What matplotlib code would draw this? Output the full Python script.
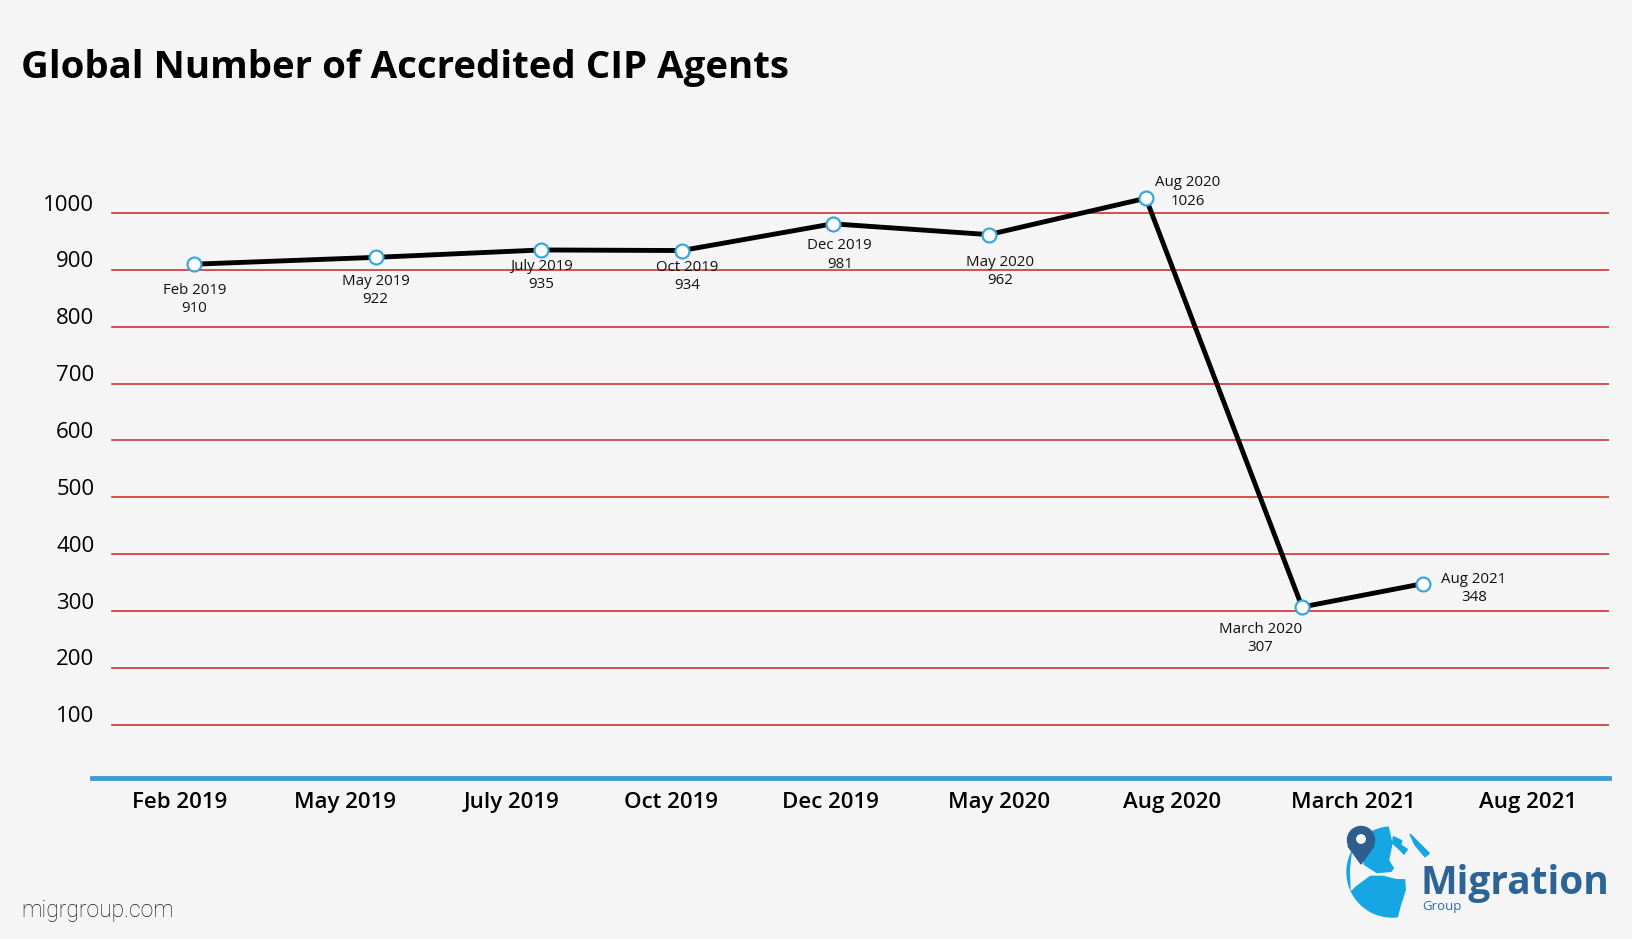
"""Global number of accredited CIP agents, redrawn as a line chart"""
import matplotlib
matplotlib.use("Agg")
import matplotlib.pyplot as plt
import matplotlib.transforms as mtransforms
from matplotlib.patches import Circle, Polygon

# data
categories = ["Feb 2019", "May 2019", "July 2019", "Oct 2019", "Dec 2019",
              "May 2020", "Aug 2020", "March 2021", "Aug 2021"]
point_names = ["Feb 2019", "May 2019", "July 2019", "Oct 2019", "Dec 2019",
               "May 2020", "Aug 2020", "March 2020", "Aug 2021"]
agents = [910, 922, 935, 934, 981, 962, 1026, 307, 348]
# where each point sits along the category axis (points are not on the ticks)
point_pos = [0.11, 1.185, 2.167, 3.0, 3.895, 4.821, 5.753, 6.679, 7.395]
y_ticks = [100, 200, 300, 400, 500, 600, 700, 800, 900, 1000]

# layout only: tick label spots and label offsets in points
tick_pos = [0.02, 1.006, 1.988, 2.938, 3.883, 4.883, 5.907, 6.981, 8.019]
label_offsets = [(0, -25.5), (0, -24), (0, -18.5), (3.7, -18.5), (5.2, -22.5),
                 (8.2, -26.5), (30, 4.5), (-30, -22.5), (36.7, -3.5)]

BG = "#f5f5f5"
RED = "#cc2222"
BLUE = "#3f9bd3"
MARKER_BLUE = "#3aa6dc"
GLOBE = "#16a6e3"
NAVY = "#2c6496"
PIN = "#2d5e8e"

plt.rcParams['font.family'] = ['Open Sans', 'DejaVu Sans']

fig = plt.figure(figsize=(16.32, 9.39), dpi=100, facecolor=BG)
ax = fig.add_axes([0.0561, 0.1677, 0.9299, 0.666])
ax.set_facecolor(BG)

ax.set_xlim(-0.5, len(categories) - 0.5)
ax.set_ylim(0, 1100)

for y in y_ticks:
    ax.axhline(y, xmin=0.0137, xmax=1, color=RED, lw=1.1, zorder=1)

ax.plot(point_pos, agents, color="black", lw=3.5, zorder=3,
        solid_joinstyle="miter")
ax.plot(point_pos, agents, linestyle="none", marker="o", markersize=10,
        markerfacecolor="white", markeredgecolor=MARKER_BLUE,
        markeredgewidth=1.6, zorder=4)

for x, y, name, off in zip(point_pos, agents, point_names, label_offsets):
    ax.annotate(f"{name}\n{y}", (x, y), xytext=off, textcoords="offset points",
                ha="center", va="center", fontsize=10.8, linespacing=1.3,
                color="#111111", zorder=5)

# axes styling
for side in ["left", "top", "right"]:
    ax.spines[side].set_visible(False)
ax.spines["bottom"].set_color(BLUE)
ax.spines["bottom"].set_linewidth(3.5)
ax.spines["bottom"].set_position(("data", 7))

ax.set_xticks(tick_pos)
ax.set_xticklabels(categories, fontsize=16, fontweight="semibold")
ax.set_yticks(y_ticks)
ax.set_yticklabels([str(v) for v in y_ticks], fontsize=16)
ax.tick_params(axis="both", length=0)
ax.tick_params(axis="x", pad=10.5)
ax.tick_params(axis="y", pad=-2)
shift = mtransforms.ScaledTranslation(0, 10.4 / 100, fig.dpi_scale_trans)
for lbl in ax.get_yticklabels():
    lbl.set_transform(lbl.get_transform() + shift)

fig.text(0.0128, 0.917, "Global Number of Accredited CIP Agents",
         fontsize=27.6, fontweight="bold", color="black", va="baseline")
fig.text(0.0128, 0.030, "migrgroup.com", fontsize=16.5, fontweight="light",
         color="#1a1a1a", va="center", family=["Roboto", "Open Sans"])

# logo, drawn in pixel coordinates of the figure
lax = fig.add_axes([0, 0, 1, 1], zorder=-1)
lax.set_xlim(0, 1632)
lax.set_ylim(939, 0)
lax.axis("off")


def logo_pts(pts):
    # shapes were sketched on a 3x grid whose corner is at (1330, 810)
    return [[1330 + px / 3, 810 + py / 3] for px, py in pts]


lax.add_patch(Circle((1392, 872), 45, color=GLOBE))
# light gap between north and south
lax.add_patch(Polygon(logo_pts([(68, 125), (80, 150), (100, 140), (98, 165),
                                (140, 192), (185, 188), (195, 175), (240, 170),
                                (240, 205), (200, 205), (160, 195), (120, 195),
                                (75, 228), (64, 240), (62, 180)]), color=BG))
# open area right of the north land and the cut beside the word
lax.add_patch(Polygon(logo_pts([(175, 35), (330, 35), (330, 175), (240, 170),
                                (195, 175), (180, 150), (190, 100)]), color=BG))
lax.add_patch(Polygon(logo_pts([(225, 168), (330, 168), (330, 345), (200, 345),
                                (214, 290), (230, 240)]), color=BG))
# small islands and the cap at the top right
lax.add_patch(Polygon(logo_pts([(190, 80), (215, 92), (212, 105), (232, 118),
                                (222, 132), (205, 115), (188, 100)]),
                      color=GLOBE))
lax.add_patch(Polygon(logo_pts([(240, 72), (298, 130), (285, 140), (255, 105)]),
                      color=GLOBE))
# map pin
lax.add_patch(Polygon([[1348, 846], [1374, 846], [1361, 864]], color=PIN))
lax.add_patch(Circle((1361, 840), 13.5, color=PIN))
lax.add_patch(Circle((1361, 839), 4.2, color="white"))
fig.text(1420 / 1632, 1 - 894 / 939, "Migration", fontsize=28,
         fontweight="bold", color=NAVY, va="baseline")
fig.text(1422 / 1632, 1 - 910 / 939, "Group", fontsize=9.5,
         color="#2e6ea6", va="baseline")

fig.savefig("out.png", dpi=100, facecolor=BG)
